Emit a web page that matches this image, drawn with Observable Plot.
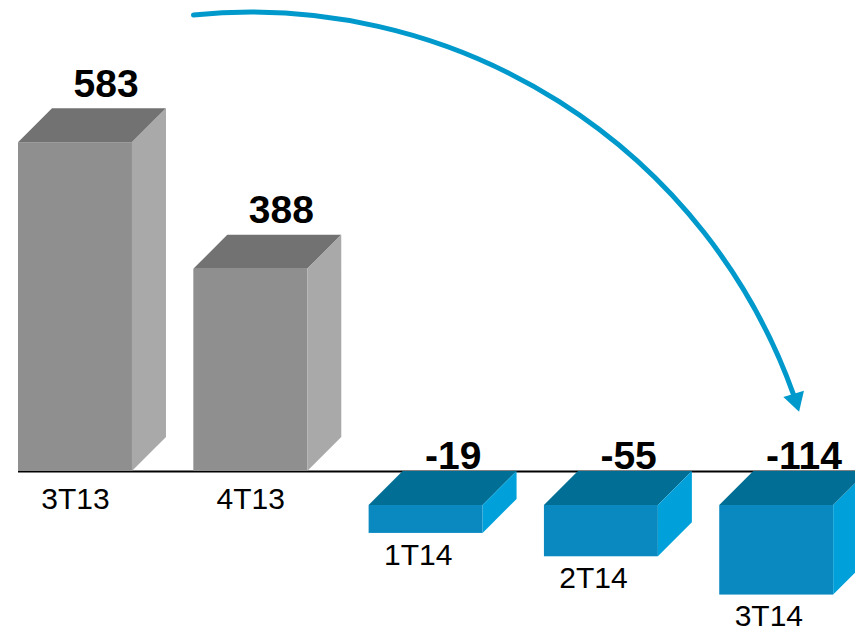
<!DOCTYPE html>
<html><head><meta charset="utf-8">
<script src="https://cdn.jsdelivr.net/npm/d3@7"></script>
<script src="https://cdn.jsdelivr.net/npm/@observablehq/plot@0.6"></script>
<style>html,body{margin:0;padding:0;background:#fff;overflow:hidden}#chart{width:855px;height:635px}</style>
</head><body><div id="chart"></div>
<script>
// ---- data ----
const categories = ["3T13", "4T13", "1T14", "2T14", "3T14"];
const values = [583, 388, -19, -55, -114];
// annotation arrow (data units: x = category index, y = value)
const arrowStart = [0.673, 780];
const arrowEnd = [4.096, 195];
const arrowTip = [4.107, 187];

// ---- colours ----
const grayFront = "#8f8f8f", grayTop = "#727272", graySide = "#a9a9a9";
const blueFront = "#0a89c0", blueTop = "#006e95", blueSide = "#00a1da";
const arrowColor = "#0099cc";

// ---- 3D geometry (data units) ----
const hw = 0.325;      // half bar width
const ddx = 0.194;     // depth offset in x
const ddy = 52.4;      // depth offset in y
const floorVal = 24;   // front-plane floor
const axisVal = floorVal + ddy; // back-plane floor (axis line)

const bars = categories.map((c, i) => ({c, i, v: values[i]}));
const front = bars.map(d => ({
  i: d.i, x1: d.i - hw, x2: d.i + hw,
  y1: d.v > 0 ? axisVal : floorVal, y2: d.v,
  fill: d.v > 0 ? grayFront : blueFront
}));
const topPts = bars.flatMap(d => {
  const t = d.v > 0 ? d.v : floorVal;
  const fill = d.v > 0 ? grayTop : blueTop;
  return [
    {i: d.i, y: t, x1: d.i - hw, x2: d.i + hw, fill},
    {i: d.i, y: t + ddy, x1: d.i - hw + ddx, x2: d.i + hw + ddx, fill}
  ];
});
const sidePts = bars.flatMap(d => {
  const t = d.v > 0 ? d.v : floorVal;
  const b = d.v > 0 ? axisVal : d.v;
  const fill = d.v > 0 ? graySide : blueSide;
  return [
    {i: d.i, x: d.i + hw, y1: b, y2: t, fill},
    {i: d.i, x: d.i + hw + ddx, y1: b + ddy, y2: t + ddy, fill}
  ];
});

const font = "Liberation Sans, Arial, Helvetica, sans-serif";

const chart = Plot.plot({
  width: 855, height: 635,
  marginTop: 0, marginBottom: 0, marginLeft: 0, marginRight: 0,
  x: {type: "linear", domain: [-0.4278, 4.4495], axis: null},
  y: {type: "linear", domain: [-176.3, 802.2], axis: null},
  color: {type: "identity"},
  style: {fontFamily: font, background: "#fff", overflow: "visible"},
  marks: [
    Plot.ruleY([axisVal], {x1: -hw, x2: categories.length - 0.5, stroke: "#000", strokeWidth: 2}),
    Plot.rect(front, {x1: "x1", x2: "x2", y1: "y1", y2: "y2", fill: "fill"}),
    Plot.areaX(topPts, {y: "y", x1: "x1", x2: "x2", z: "i", fill: "fill"}),
    Plot.areaY(sidePts, {x: "x", y1: "y1", y2: "y2", z: "i", fill: "fill"}),
    // value labels
    Plot.text(bars.filter(d => d.v > 0), {x: d => d.i + ddx * 0.9, y: d => d.v + ddy, text: d => String(d.v),
      lineAnchor: "bottom", dy: -12, fontSize: 39, fontWeight: "bold", fill: "#000"}),
    Plot.text(bars.filter(d => d.v < 0), {x: d => d.i + ddx * 0.8, y: axisVal, text: d => String(d.v),
      lineAnchor: "bottom", dy: -3, fontSize: 39, fontWeight: "bold", fill: "#000"}),
    // category labels
    Plot.text(bars.filter(d => d.v > 0), {x: "i", y: axisVal, text: "c",
      lineAnchor: "top", dy: 16, fontSize: 30, fill: "#000"}),
    Plot.text(bars.filter(d => d.v < 0), {x: d => d.i - 0.045, y: "v", text: "c",
      lineAnchor: "top", dy: 10, fontSize: 30, fill: "#000"}),
    // arrow
    Plot.arrow([{x1: arrowStart[0], y1: arrowStart[1], x2: arrowEnd[0], y2: arrowEnd[1]}],
      {x1: "x1", y1: "y1", x2: "x2", y2: "y2", bend: 38, stroke: arrowColor, strokeWidth: 5, headLength: 0}),
    Plot.dot([{x: arrowTip[0], y: arrowTip[1]}], {x: "x", y: "y", symbol: "triangle", r: 8, rotate: 163, fill: arrowColor, stroke: "none"})
  ]
});
document.getElementById("chart").appendChild(chart);
</script>
</body></html>
